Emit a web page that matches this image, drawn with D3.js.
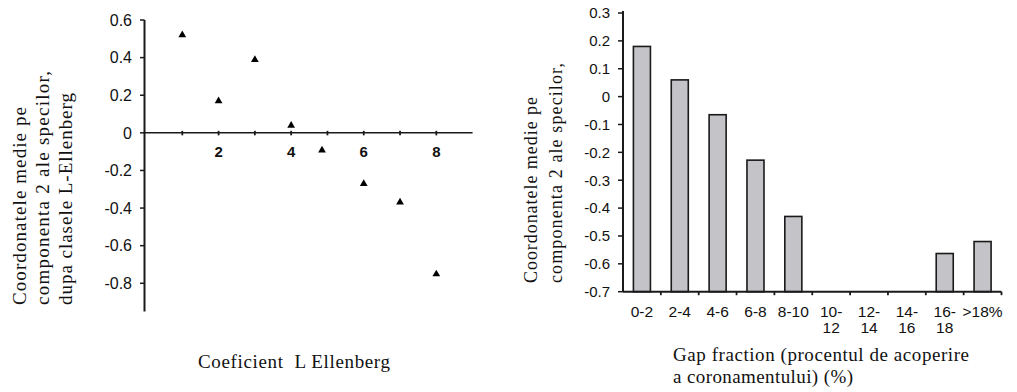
<!DOCTYPE html>
<html>
<head>
<meta charset="utf-8">
<script src="https://cdn.jsdelivr.net/npm/d3@7"></script>
<style>
  html, body { margin: 0; padding: 0; background: #fff; }
  svg { display: block; }
</style>
</head>
<body>
<svg id="chart" width="1017" height="392"></svg>
<script>
// Left panel: mean species coordinate on component 2 per Ellenberg L class
const ellenbergClass = [1, 2, 3, 4, 4.85, 6, 7, 8];
const ellenbergCoord = [0.526, 0.175, 0.394, 0.044, -0.087, -0.265, -0.364, -0.746];
const leftYTickLabels = ["0.6", "0.4", "0.2", "0", "-0.2", "-0.4", "-0.6", "-0.8"];
const leftXTicks = [1, 2, 3, 4, 5, 6, 7, 8];
const leftXTickLabels = ["", "2", "", "4", "", "6", "", "8"];

// Right panel: mean species coordinate on component 2 per gap-fraction class
const gapClasses = ["0-2", "2-4", "4-6", "6-8", "8-10", "10-12", "12-14", "14-16", "16-18", ">18%"];
const gapLabelLines = [["0-2"], ["2-4"], ["4-6"], ["6-8"], ["8-10"], ["10-", "12"], ["12-", "14"], ["14-", "16"], ["16-", "18"], [">18%"]];
const gapCoord = [0.18, 0.06, -0.065, -0.228, -0.43, null, null, null, -0.563, -0.52];
const rightYTickLabels = ["0.3", "0.2", "0.1", "0", "-0.1", "-0.2", "-0.3", "-0.4", "-0.5", "-0.6", "-0.7"];

const SANS = "Liberation Sans";
const SERIF = "Liberation Serif";

const svg = d3.select("#chart");
const axisColor = "#1a1a1a";
const ink = "#111";

// serif title text stretched to a given run length
function serifText(g, str, size, len) {
  return g.append("text")
    .style("font-family", SERIF).attr("fill", ink)
    .attr("font-size", size)
    .attr("textLength", len).attr("lengthAdjust", "spacing")
    .text(str);
}

/* ---------------- Left panel: scatter ---------------- */
const xL = d3.scaleLinear().domain([0, 9]).range([146, 472.6]);
const yL = d3.scaleLinear().domain([-0.95, 0.6]).range([311.5, 20]);
const gL = svg.append("g");

// vertical axis
gL.append("line")
  .attr("x1", 144.5).attr("x2", 144.5)
  .attr("y1", yL(0.6)).attr("y2", yL(-0.95))
  .attr("stroke", axisColor).attr("stroke-width", 2);

leftYTickLabels.forEach(lbl => {
  const v = +lbl;
  gL.append("line")
    .attr("x1", 140).attr("x2", 144.5)
    .attr("y1", yL(v)).attr("y2", yL(v))
    .attr("stroke", axisColor).attr("stroke-width", 1.5);
  gL.append("text")
    .style("font-family", SANS).attr("fill", ink)
    .attr("x", 132).attr("y", yL(v)).attr("dy", "0.36em")
    .attr("text-anchor", "end").attr("font-size", 16)
    .text(lbl);
});

// horizontal axis at zero
gL.append("line")
  .attr("x1", 144.5).attr("x2", xL(9))
  .attr("y1", yL(0)).attr("y2", yL(0))
  .attr("stroke", axisColor).attr("stroke-width", 1.5);

leftXTicks.forEach((t, i) => {
  gL.append("line")
    .attr("x1", xL(t)).attr("x2", xL(t))
    .attr("y1", yL(0) - 2).attr("y2", yL(0) + 2.5)
    .attr("stroke", axisColor).attr("stroke-width", 1.8);
  if (leftXTickLabels[i]) {
    gL.append("text")
      .style("font-family", SANS).attr("fill", ink)
      .attr("x", xL(t)).attr("y", yL(0) + 24)
      .attr("text-anchor", "middle").attr("font-size", 15).attr("font-weight", "bold")
      .text(leftXTickLabels[i]);
  }
});

// triangle markers
const tri = d3.symbol().type(d3.symbolTriangle).size(26);
gL.selectAll("path.pt")
  .data(ellenbergClass.map((x, i) => ({ x, y: ellenbergCoord[i] })))
  .join("path").attr("class", "pt")
  .attr("d", tri)
  .attr("transform", d => `translate(${xL(d.x)},${yL(d.y) + 1})`)
  .attr("fill", "#000");

// axis titles
const leftYTitle = ["Coordonatele medie pe", "componenta 2 ale specilor,", "dupa clasele L-Ellenberg"];
const leftYTitleLen = [198, 234, 212];
leftYTitle.forEach((line, i) => {
  serifText(gL, line, 19, leftYTitleLen[i])
    .attr("transform", `translate(${26 + i * 23},305) rotate(-90)`);
});
serifText(gL, "Coeficient\u00a0\u00a0L Ellenberg", 19, 192)
  .attr("x", 198).attr("y", 368);

/* ---------------- Right panel: bars ---------------- */
const xR = d3.scaleBand().domain(gapClasses).range([623, 1001.5]).padding(0);
const yR = d3.scaleLinear().domain([-0.7, 0.3]).range([291.7, 13]);
const gR = svg.append("g");
const barW = xR.bandwidth() * 0.45;

gR.selectAll("rect.bar")
  .data(gapClasses.map((c, i) => ({ c, v: gapCoord[i] })).filter(d => d.v !== null))
  .join("rect").attr("class", "bar")
  .attr("x", d => xR(d.c) + xR.bandwidth() / 2 - barW / 2)
  .attr("width", barW)
  .attr("y", d => yR(d.v))
  .attr("height", d => yR(-0.7) - yR(d.v))
  .attr("fill", "#c4c3c7")
  .attr("stroke", "#1a1a1a").attr("stroke-width", 1.6);

// vertical axis
gR.append("line")
  .attr("x1", 623).attr("x2", 623)
  .attr("y1", yR(0.3) - 2).attr("y2", yR(-0.7))
  .attr("stroke", axisColor).attr("stroke-width", 2);

rightYTickLabels.forEach(lbl => {
  const v = +lbl;
  gR.append("line")
    .attr("x1", 618).attr("x2", 623)
    .attr("y1", yR(v)).attr("y2", yR(v))
    .attr("stroke", axisColor).attr("stroke-width", 1.5);
  gR.append("text")
    .style("font-family", SANS).attr("fill", ink)
    .attr("x", 610).attr("y", yR(v)).attr("dy", "0.36em")
    .attr("text-anchor", "end").attr("font-size", 15)
    .text(lbl);
});

// horizontal axis
gR.append("line")
  .attr("x1", 623).attr("x2", 1001.5)
  .attr("y1", yR(-0.7)).attr("y2", yR(-0.7))
  .attr("stroke", axisColor).attr("stroke-width", 2);

gapClasses.forEach((c, i) => {
  const edge = xR(c) + xR.bandwidth();
  gR.append("line")
    .attr("x1", edge).attr("x2", edge)
    .attr("y1", yR(-0.7)).attr("y2", yR(-0.7) + 3.5)
    .attr("stroke", axisColor).attr("stroke-width", 1.8);
  const t = gR.append("text")
    .style("font-family", SANS).attr("fill", ink)
    .attr("text-anchor", "middle").attr("font-size", 15.5);
  gapLabelLines[i].forEach((ln, j) => {
    t.append("tspan")
      .attr("x", xR(c) + xR.bandwidth() / 2)
      .attr("y", yR(-0.7) + 25 + j * 16.5)
      .text(ln);
  });
});

const rightYTitle = ["Coordonatele medie pe", "componenta 2 ale specilor,"];
const rightYTitleLen = [186, 220];
rightYTitle.forEach((line, i) => {
  serifText(gR, line, 18, rightYTitleLen[i])
    .attr("transform", `translate(${537 + i * 24.5},283) rotate(-90)`);
});
const rightXTitle = ["Gap fraction (procentul de acoperire", "a coronamentului) (%)"];
const rightXTitleLen = [296, 180];
rightXTitle.forEach((line, i) => {
  serifText(gR, line, 19, rightXTitleLen[i])
    .attr("x", 673).attr("y", 361 + i * 22);
});
</script>
</body>
</html>
